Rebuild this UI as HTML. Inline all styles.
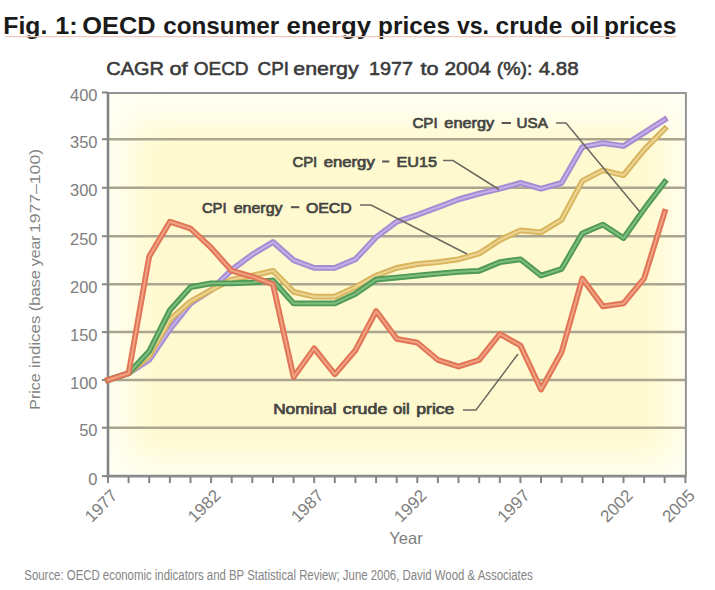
<!DOCTYPE html>
<html><head><meta charset="utf-8"><style>
html,body{margin:0;padding:0;background:#fff;width:715px;height:590px;overflow:hidden}
svg{display:block}
</style></head><body>
<svg width="715" height="590" viewBox="0 0 715 590">
<rect x="0" y="0" width="715" height="590" fill="#fff"/>
<text x="3.39" y="34.2" textLength="43.87" lengthAdjust="spacingAndGlyphs" style="font-family:&quot;Liberation Sans&quot;,sans-serif;font-weight:bold;font-size:24.5px;fill:#1a1a1a">Fig.</text><text x="55.17" y="34.2" textLength="22.37" lengthAdjust="spacingAndGlyphs" style="font-family:&quot;Liberation Sans&quot;,sans-serif;font-weight:bold;font-size:24.5px;fill:#1a1a1a">1:</text><text x="82.37" y="34.2" textLength="73.26" lengthAdjust="spacingAndGlyphs" style="font-family:&quot;Liberation Sans&quot;,sans-serif;font-weight:bold;font-size:24.5px;fill:#1a1a1a">OECD</text><text x="163.21" y="34.2" textLength="115.98" lengthAdjust="spacingAndGlyphs" style="font-family:&quot;Liberation Sans&quot;,sans-serif;font-weight:bold;font-size:24.5px;fill:#1a1a1a">consumer</text><text x="286.55" y="34.2" textLength="84.51" lengthAdjust="spacingAndGlyphs" style="font-family:&quot;Liberation Sans&quot;,sans-serif;font-weight:bold;font-size:24.5px;fill:#1a1a1a">energy</text><text x="378.11" y="34.2" textLength="71.87" lengthAdjust="spacingAndGlyphs" style="font-family:&quot;Liberation Sans&quot;,sans-serif;font-weight:bold;font-size:24.5px;fill:#1a1a1a">prices</text><text x="456.90" y="34.2" textLength="32.10" lengthAdjust="spacingAndGlyphs" style="font-family:&quot;Liberation Sans&quot;,sans-serif;font-weight:bold;font-size:24.5px;fill:#1a1a1a">vs.</text><text x="495.60" y="34.2" textLength="66.72" lengthAdjust="spacingAndGlyphs" style="font-family:&quot;Liberation Sans&quot;,sans-serif;font-weight:bold;font-size:24.5px;fill:#1a1a1a">crude</text><text x="570.40" y="34.2" textLength="28.59" lengthAdjust="spacingAndGlyphs" style="font-family:&quot;Liberation Sans&quot;,sans-serif;font-weight:bold;font-size:24.5px;fill:#1a1a1a">oil</text><text x="604.10" y="34.2" textLength="72.29" lengthAdjust="spacingAndGlyphs" style="font-family:&quot;Liberation Sans&quot;,sans-serif;font-weight:bold;font-size:24.5px;fill:#1a1a1a">prices</text>
<line x1="5" y1="36.6" x2="676" y2="36.6" stroke="#f2cabb" stroke-width="1.2"/>
<text x="106.35" y="74.6" textLength="57.70" lengthAdjust="spacingAndGlyphs" style="font-family:&quot;Liberation Sans&quot;,sans-serif;font-size:19px;fill:#3a3a3a;stroke:#3a3a3a;stroke-width:0.55px">CAGR</text><text x="169.45" y="74.6" textLength="18.19" lengthAdjust="spacingAndGlyphs" style="font-family:&quot;Liberation Sans&quot;,sans-serif;font-size:19px;fill:#3a3a3a;stroke:#3a3a3a;stroke-width:0.55px">of</text><text x="193.70" y="74.6" textLength="54.91" lengthAdjust="spacingAndGlyphs" style="font-family:&quot;Liberation Sans&quot;,sans-serif;font-size:19px;fill:#3a3a3a;stroke:#3a3a3a;stroke-width:0.55px">OECD</text><text x="257.61" y="74.6" textLength="31.47" lengthAdjust="spacingAndGlyphs" style="font-family:&quot;Liberation Sans&quot;,sans-serif;font-size:19px;fill:#3a3a3a;stroke:#3a3a3a;stroke-width:0.55px">CPI</text><text x="293.28" y="74.6" textLength="65.35" lengthAdjust="spacingAndGlyphs" style="font-family:&quot;Liberation Sans&quot;,sans-serif;font-size:19px;fill:#3a3a3a;stroke:#3a3a3a;stroke-width:0.55px">energy</text><text x="368.95" y="74.6" textLength="44.24" lengthAdjust="spacingAndGlyphs" style="font-family:&quot;Liberation Sans&quot;,sans-serif;font-size:19px;fill:#3a3a3a;stroke:#3a3a3a;stroke-width:0.55px">1977</text><text x="420.40" y="74.6" textLength="18.08" lengthAdjust="spacingAndGlyphs" style="font-family:&quot;Liberation Sans&quot;,sans-serif;font-size:19px;fill:#3a3a3a;stroke:#3a3a3a;stroke-width:0.55px">to</text><text x="444.50" y="74.6" textLength="46.51" lengthAdjust="spacingAndGlyphs" style="font-family:&quot;Liberation Sans&quot;,sans-serif;font-size:19px;fill:#3a3a3a;stroke:#3a3a3a;stroke-width:0.55px">2004</text><text x="496.67" y="74.6" textLength="35.88" lengthAdjust="spacingAndGlyphs" style="font-family:&quot;Liberation Sans&quot;,sans-serif;font-size:19px;fill:#3a3a3a;stroke:#3a3a3a;stroke-width:0.55px">(%):</text><text x="538.70" y="74.6" textLength="39.98" lengthAdjust="spacingAndGlyphs" style="font-family:&quot;Liberation Sans&quot;,sans-serif;font-size:19px;fill:#3a3a3a;stroke:#3a3a3a;stroke-width:0.55px">4.88</text>
<defs>
<filter id="soft" x="-20%" y="-20%" width="140%" height="140%"><feGaussianBlur stdDeviation="16"/></filter>
<clipPath id="pc"><rect x="108.0" y="93" width="577.4" height="383.1"/></clipPath>
</defs><rect x="108.0" y="93" width="577.4" height="383.1" fill="#fffff3"/><g clip-path="url(#pc)"><rect x="132.0" y="123" width="537.4" height="335.1" fill="#fff9cf" filter="url(#soft)"/></g><line x1="108.0" y1="427.7" x2="685.4" y2="427.7" stroke="#a9a58f" stroke-width="2.5"/><line x1="108.0" y1="380.0" x2="685.4" y2="380.0" stroke="#a9a58f" stroke-width="2.5"/><line x1="108.0" y1="332.1" x2="685.4" y2="332.1" stroke="#a9a58f" stroke-width="2.5"/><line x1="108.0" y1="284.3" x2="685.4" y2="284.3" stroke="#a9a58f" stroke-width="2.5"/><line x1="108.0" y1="236.2" x2="685.4" y2="236.2" stroke="#a9a58f" stroke-width="2.5"/><line x1="108.0" y1="187.8" x2="685.4" y2="187.8" stroke="#a9a58f" stroke-width="2.5"/><line x1="108.0" y1="139.2" x2="685.4" y2="139.2" stroke="#a9a58f" stroke-width="2.5"/><line x1="102" y1="476.1" x2="108.0" y2="476.1" stroke="#858585" stroke-width="2"/><line x1="102" y1="427.7" x2="108.0" y2="427.7" stroke="#858585" stroke-width="2"/><line x1="102" y1="380.0" x2="108.0" y2="380.0" stroke="#858585" stroke-width="2"/><line x1="102" y1="332.1" x2="108.0" y2="332.1" stroke="#858585" stroke-width="2"/><line x1="102" y1="284.3" x2="108.0" y2="284.3" stroke="#858585" stroke-width="2"/><line x1="102" y1="236.2" x2="108.0" y2="236.2" stroke="#858585" stroke-width="2"/><line x1="102" y1="187.8" x2="108.0" y2="187.8" stroke="#858585" stroke-width="2"/><line x1="102" y1="139.2" x2="108.0" y2="139.2" stroke="#858585" stroke-width="2"/><line x1="102" y1="92.5" x2="108.0" y2="92.5" stroke="#858585" stroke-width="2"/><line x1="108.0" y1="476.1" x2="108.0" y2="483.1" stroke="#858585" stroke-width="2"/><line x1="128.6" y1="476.1" x2="128.6" y2="483.1" stroke="#858585" stroke-width="2"/><line x1="149.2" y1="476.1" x2="149.2" y2="483.1" stroke="#858585" stroke-width="2"/><line x1="169.9" y1="476.1" x2="169.9" y2="483.1" stroke="#858585" stroke-width="2"/><line x1="190.5" y1="476.1" x2="190.5" y2="483.1" stroke="#858585" stroke-width="2"/><line x1="211.1" y1="476.1" x2="211.1" y2="483.1" stroke="#858585" stroke-width="2"/><line x1="231.7" y1="476.1" x2="231.7" y2="483.1" stroke="#858585" stroke-width="2"/><line x1="252.3" y1="476.1" x2="252.3" y2="483.1" stroke="#858585" stroke-width="2"/><line x1="273.0" y1="476.1" x2="273.0" y2="483.1" stroke="#858585" stroke-width="2"/><line x1="293.6" y1="476.1" x2="293.6" y2="483.1" stroke="#858585" stroke-width="2"/><line x1="314.2" y1="476.1" x2="314.2" y2="483.1" stroke="#858585" stroke-width="2"/><line x1="334.8" y1="476.1" x2="334.8" y2="483.1" stroke="#858585" stroke-width="2"/><line x1="355.4" y1="476.1" x2="355.4" y2="483.1" stroke="#858585" stroke-width="2"/><line x1="376.1" y1="476.1" x2="376.1" y2="483.1" stroke="#858585" stroke-width="2"/><line x1="396.7" y1="476.1" x2="396.7" y2="483.1" stroke="#858585" stroke-width="2"/><line x1="417.3" y1="476.1" x2="417.3" y2="483.1" stroke="#858585" stroke-width="2"/><line x1="437.9" y1="476.1" x2="437.9" y2="483.1" stroke="#858585" stroke-width="2"/><line x1="458.5" y1="476.1" x2="458.5" y2="483.1" stroke="#858585" stroke-width="2"/><line x1="479.2" y1="476.1" x2="479.2" y2="483.1" stroke="#858585" stroke-width="2"/><line x1="499.8" y1="476.1" x2="499.8" y2="483.1" stroke="#858585" stroke-width="2"/><line x1="520.4" y1="476.1" x2="520.4" y2="483.1" stroke="#858585" stroke-width="2"/><line x1="541.0" y1="476.1" x2="541.0" y2="483.1" stroke="#858585" stroke-width="2"/><line x1="561.6" y1="476.1" x2="561.6" y2="483.1" stroke="#858585" stroke-width="2"/><line x1="582.3" y1="476.1" x2="582.3" y2="483.1" stroke="#858585" stroke-width="2"/><line x1="602.9" y1="476.1" x2="602.9" y2="483.1" stroke="#858585" stroke-width="2"/><line x1="623.5" y1="476.1" x2="623.5" y2="483.1" stroke="#858585" stroke-width="2"/><line x1="644.1" y1="476.1" x2="644.1" y2="483.1" stroke="#858585" stroke-width="2"/><line x1="664.7" y1="476.1" x2="664.7" y2="483.1" stroke="#858585" stroke-width="2"/><line x1="685.4" y1="476.1" x2="685.4" y2="483.1" stroke="#858585" stroke-width="2"/><polyline points="108.0,93 685.9,93 685.9,476.1" fill="none" stroke="#959595" stroke-width="2"/><line x1="108.0" y1="92" x2="108.0" y2="477.6" stroke="#858585" stroke-width="2.6"/><line x1="106.5" y1="476.1" x2="686.4" y2="476.1" stroke="#8a8a8a" stroke-width="2.6"/><polyline points="108.0,380.0 128.6,373.3 149.2,359.9 169.9,329.2 190.5,303.4 211.1,290.0 231.7,269.9 252.3,254.5 273.0,242.0 293.6,260.2 314.2,267.9 334.8,267.9 355.4,259.3 376.1,237.2 396.7,221.7 417.3,214.9 437.9,207.2 458.5,199.4 479.2,193.6 499.8,188.8 520.4,182.9 541.0,188.8 561.6,182.9 582.3,147.0 602.9,143.1 623.5,146.0 644.1,132.7 664.7,119.6" fill="none" stroke="#a68bd3" stroke-width="5.8" stroke-linejoin="round" stroke-linecap="square"/><polyline points="108.0,380.0 128.6,373.3 149.2,359.9 169.9,329.2 190.5,303.4 211.1,290.0 231.7,269.9 252.3,254.5 273.0,242.0 293.6,260.2 314.2,267.9 334.8,267.9 355.4,259.3 376.1,237.2 396.7,221.7 417.3,214.9 437.9,207.2 458.5,199.4 479.2,193.6 499.8,188.8 520.4,182.9 541.0,188.8 561.6,182.9 582.3,147.0 602.9,143.1 623.5,146.0 644.1,132.7 664.7,119.6" fill="none" stroke="#c4b0e6" stroke-width="2.0" stroke-linejoin="round" stroke-linecap="square"/><polyline points="108.0,380.0 128.6,373.3 149.2,356.1 169.9,319.7 190.5,301.5 211.1,290.0 231.7,279.5 252.3,275.6 273.0,270.8 293.6,291.9 314.2,296.7 334.8,296.7 355.4,287.2 376.1,275.6 396.7,267.9 417.3,264.1 437.9,262.2 458.5,259.3 479.2,253.5 499.8,240.0 520.4,230.4 541.0,232.3 561.6,219.7 582.3,181.0 602.9,170.3 623.5,175.2 644.1,149.9 664.7,128.9" fill="none" stroke="#d8b45c" stroke-width="5.8" stroke-linejoin="round" stroke-linecap="square"/><polyline points="108.0,380.0 128.6,373.3 149.2,356.1 169.9,319.7 190.5,301.5 211.1,290.0 231.7,279.5 252.3,275.6 273.0,270.8 293.6,291.9 314.2,296.7 334.8,296.7 355.4,287.2 376.1,275.6 396.7,267.9 417.3,264.1 437.9,262.2 458.5,259.3 479.2,253.5 499.8,240.0 520.4,230.4 541.0,232.3 561.6,219.7 582.3,181.0 602.9,170.3 623.5,175.2 644.1,149.9 664.7,128.9" fill="none" stroke="#ecd594" stroke-width="2.0" stroke-linejoin="round" stroke-linecap="square"/><polyline points="108.0,380.0 128.6,373.3 149.2,351.3 169.9,310.1 190.5,287.2 211.1,283.3 231.7,283.3 252.3,282.4 273.0,280.5 293.6,303.4 314.2,303.4 334.8,303.4 355.4,293.9 376.1,279.5 396.7,277.6 417.3,275.6 437.9,273.7 458.5,271.8 479.2,270.8 499.8,262.2 520.4,259.3 541.0,275.6 561.6,268.9 582.3,233.3 602.9,224.6 623.5,238.1 644.1,209.1 664.7,182.0" fill="none" stroke="#4f9a54" stroke-width="5.8" stroke-linejoin="round" stroke-linecap="square"/><polyline points="108.0,380.0 128.6,373.3 149.2,351.3 169.9,310.1 190.5,287.2 211.1,283.3 231.7,283.3 252.3,282.4 273.0,280.5 293.6,303.4 314.2,303.4 334.8,303.4 355.4,293.9 376.1,279.5 396.7,277.6 417.3,275.6 437.9,273.7 458.5,271.8 479.2,270.8 499.8,262.2 520.4,259.3 541.0,275.6 561.6,268.9 582.3,233.3 602.9,224.6 623.5,238.1 644.1,209.1 664.7,182.0" fill="none" stroke="#7fbd80" stroke-width="2.0" stroke-linejoin="round" stroke-linecap="square"/><polyline points="108.0,380.0 128.6,373.3 149.2,256.4 169.9,221.7 190.5,228.5 211.1,247.7 231.7,270.8 252.3,276.6 273.0,284.3 293.6,377.1 314.2,348.4 334.8,374.3 355.4,350.3 376.1,311.1 396.7,338.8 417.3,342.6 437.9,359.9 458.5,366.6 479.2,359.9 499.8,334.0 520.4,345.5 541.0,389.5 561.6,352.2 582.3,278.5 602.9,306.3 623.5,303.4 644.1,278.5 664.7,212.0" fill="none" stroke="#e07454" stroke-width="5.8" stroke-linejoin="round" stroke-linecap="square"/><polyline points="108.0,380.0 128.6,373.3 149.2,256.4 169.9,221.7 190.5,228.5 211.1,247.7 231.7,270.8 252.3,276.6 273.0,284.3 293.6,377.1 314.2,348.4 334.8,374.3 355.4,350.3 376.1,311.1 396.7,338.8 417.3,342.6 437.9,359.9 458.5,366.6 479.2,359.9 499.8,334.0 520.4,345.5 541.0,389.5 561.6,352.2 582.3,278.5 602.9,306.3 623.5,303.4 644.1,278.5 664.7,212.0" fill="none" stroke="#f0a284" stroke-width="2.0" stroke-linejoin="round" stroke-linecap="square"/><polyline points="556,123 566,123 640,212" fill="none" stroke="#6b6a60" stroke-width="1.5"/><polyline points="443,160.5 453,160.5 499,189.5" fill="none" stroke="#6b6a60" stroke-width="1.5"/><polyline points="360,205 371,205 467,254" fill="none" stroke="#6b6a60" stroke-width="1.5"/><polyline points="463,410 476,410 518,354" fill="none" stroke="#6b6a60" stroke-width="1.5"/><text x="412.40" y="128.3" textLength="25.33" lengthAdjust="spacingAndGlyphs" style="font-family:&quot;Liberation Sans&quot;,sans-serif;font-size:15px;fill:#454542;stroke:#454542;stroke-width:0.7px">CPI</text><text x="444.30" y="128.3" textLength="49.96" lengthAdjust="spacingAndGlyphs" style="font-family:&quot;Liberation Sans&quot;,sans-serif;font-size:15px;fill:#454542;stroke:#454542;stroke-width:0.7px">energy</text><rect x="501.60" y="122.00" width="9.40" height="2.0" fill="#555552"/><text x="516.58" y="128.3" textLength="31.36" lengthAdjust="spacingAndGlyphs" style="font-family:&quot;Liberation Sans&quot;,sans-serif;font-size:15px;fill:#454542;stroke:#454542;stroke-width:0.7px">USA</text><text x="292.40" y="166.8" textLength="24.81" lengthAdjust="spacingAndGlyphs" style="font-family:&quot;Liberation Sans&quot;,sans-serif;font-size:15px;fill:#454542;stroke:#454542;stroke-width:0.7px">CPI</text><text x="323.70" y="166.8" textLength="51.06" lengthAdjust="spacingAndGlyphs" style="font-family:&quot;Liberation Sans&quot;,sans-serif;font-size:15px;fill:#454542;stroke:#454542;stroke-width:0.7px">energy</text><rect x="382.10" y="160.50" width="7.20" height="2.0" fill="#555552"/><text x="396.42" y="166.8" textLength="40.55" lengthAdjust="spacingAndGlyphs" style="font-family:&quot;Liberation Sans&quot;,sans-serif;font-size:15px;fill:#454542;stroke:#454542;stroke-width:0.7px">EU15</text><text x="201.90" y="212.5" textLength="24.70" lengthAdjust="spacingAndGlyphs" style="font-family:&quot;Liberation Sans&quot;,sans-serif;font-size:15px;fill:#454542;stroke:#454542;stroke-width:0.7px">CPI</text><text x="233.70" y="212.5" textLength="48.87" lengthAdjust="spacingAndGlyphs" style="font-family:&quot;Liberation Sans&quot;,sans-serif;font-size:15px;fill:#454542;stroke:#454542;stroke-width:0.7px">energy</text><rect x="290.90" y="206.20" width="8.40" height="2.0" fill="#555552"/><text x="305.90" y="212.5" textLength="45.86" lengthAdjust="spacingAndGlyphs" style="font-family:&quot;Liberation Sans&quot;,sans-serif;font-size:15px;fill:#454542;stroke:#454542;stroke-width:0.7px">OECD</text><text x="273.15" y="414.4" textLength="63.39" lengthAdjust="spacingAndGlyphs" style="font-family:&quot;Liberation Sans&quot;,sans-serif;font-size:15px;fill:#454542;stroke:#454542;stroke-width:0.7px">Nominal</text><text x="342.80" y="414.4" textLength="44.53" lengthAdjust="spacingAndGlyphs" style="font-family:&quot;Liberation Sans&quot;,sans-serif;font-size:15px;fill:#454542;stroke:#454542;stroke-width:0.7px">crude</text><text x="393.00" y="414.4" textLength="16.82" lengthAdjust="spacingAndGlyphs" style="font-family:&quot;Liberation Sans&quot;,sans-serif;font-size:15px;fill:#454542;stroke:#454542;stroke-width:0.7px">oil</text><text x="416.23" y="414.4" textLength="38.18" lengthAdjust="spacingAndGlyphs" style="font-family:&quot;Liberation Sans&quot;,sans-serif;font-size:15px;fill:#454542;stroke:#454542;stroke-width:0.7px">price</text><text x="97.5" y="484.7" text-anchor="end" style="font-family:&quot;Liberation Sans&quot;,sans-serif;font-size:16.5px;fill:#7e7e7e">0</text><text x="97.5" y="436.3" text-anchor="end" style="font-family:&quot;Liberation Sans&quot;,sans-serif;font-size:16.5px;fill:#7e7e7e">50</text><text x="97.5" y="388.6" text-anchor="end" style="font-family:&quot;Liberation Sans&quot;,sans-serif;font-size:16.5px;fill:#7e7e7e">100</text><text x="97.5" y="340.7" text-anchor="end" style="font-family:&quot;Liberation Sans&quot;,sans-serif;font-size:16.5px;fill:#7e7e7e">150</text><text x="97.5" y="292.9" text-anchor="end" style="font-family:&quot;Liberation Sans&quot;,sans-serif;font-size:16.5px;fill:#7e7e7e">200</text><text x="97.5" y="244.8" text-anchor="end" style="font-family:&quot;Liberation Sans&quot;,sans-serif;font-size:16.5px;fill:#7e7e7e">250</text><text x="97.5" y="196.4" text-anchor="end" style="font-family:&quot;Liberation Sans&quot;,sans-serif;font-size:16.5px;fill:#7e7e7e">300</text><text x="97.5" y="147.8" text-anchor="end" style="font-family:&quot;Liberation Sans&quot;,sans-serif;font-size:16.5px;fill:#7e7e7e">350</text><text x="97.5" y="101.1" text-anchor="end" style="font-family:&quot;Liberation Sans&quot;,sans-serif;font-size:16.5px;fill:#7e7e7e">400</text><text x="118.5" y="496.6" text-anchor="end" transform="rotate(-45 118.5 496.6)" style="font-family:&quot;Liberation Sans&quot;,sans-serif;font-size:17px;fill:#7e7e7e">1977</text><text x="221.6" y="496.6" text-anchor="end" transform="rotate(-45 221.6 496.6)" style="font-family:&quot;Liberation Sans&quot;,sans-serif;font-size:17px;fill:#7e7e7e">1982</text><text x="324.7" y="496.6" text-anchor="end" transform="rotate(-45 324.7 496.6)" style="font-family:&quot;Liberation Sans&quot;,sans-serif;font-size:17px;fill:#7e7e7e">1987</text><text x="427.8" y="496.6" text-anchor="end" transform="rotate(-45 427.8 496.6)" style="font-family:&quot;Liberation Sans&quot;,sans-serif;font-size:17px;fill:#7e7e7e">1992</text><text x="530.9" y="496.6" text-anchor="end" transform="rotate(-45 530.9 496.6)" style="font-family:&quot;Liberation Sans&quot;,sans-serif;font-size:17px;fill:#7e7e7e">1997</text><text x="634.0" y="496.6" text-anchor="end" transform="rotate(-45 634.0 496.6)" style="font-family:&quot;Liberation Sans&quot;,sans-serif;font-size:17px;fill:#7e7e7e">2002</text><text x="695.9" y="496.6" text-anchor="end" transform="rotate(-45 695.9 496.6)" style="font-family:&quot;Liberation Sans&quot;,sans-serif;font-size:17px;fill:#7e7e7e">2005</text><text x="406" y="544" text-anchor="middle" style="font-family:&quot;Liberation Sans&quot;,sans-serif;font-size:16.5px;fill:#7e7e7e">Year</text><g transform="rotate(-90)"><text x="-409.74" y="40.3" textLength="36.37" lengthAdjust="spacingAndGlyphs" style="font-family:&quot;Liberation Sans&quot;,sans-serif;font-size:14px;fill:#858585">Price</text><text x="-368.31" y="40.3" textLength="52.73" lengthAdjust="spacingAndGlyphs" style="font-family:&quot;Liberation Sans&quot;,sans-serif;font-size:14px;fill:#858585">indices</text><text x="-311.28" y="40.3" textLength="41.29" lengthAdjust="spacingAndGlyphs" style="font-family:&quot;Liberation Sans&quot;,sans-serif;font-size:14px;fill:#858585">(base</text><text x="-266.23" y="40.3" textLength="30.80" lengthAdjust="spacingAndGlyphs" style="font-family:&quot;Liberation Sans&quot;,sans-serif;font-size:14px;fill:#858585">year</text><text x="-233.06" y="40.3" textLength="84.05" lengthAdjust="spacingAndGlyphs" style="font-family:&quot;Liberation Sans&quot;,sans-serif;font-size:14px;fill:#858585">1977–100)</text></g>
<text x="24.3" y="579.5" textLength="508.5" lengthAdjust="spacingAndGlyphs" style="font-family:&quot;Liberation Sans&quot;,sans-serif;font-size:14px;fill:#858585">Source: OECD economic indicators and BP Statistical Review; June 2006, David Wood &amp; Associates</text>
</svg>
</body></html>
